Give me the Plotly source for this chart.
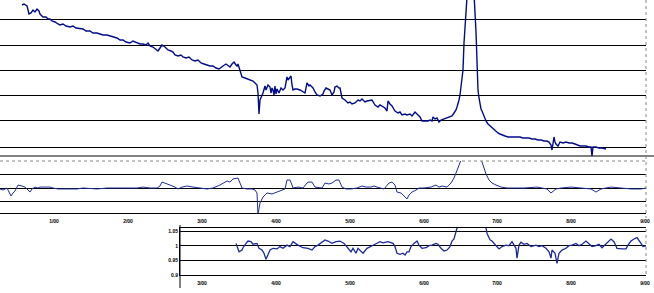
import plotly.graph_objects as go

# ---------------- data ----------------
# x positions are trading-session numbers (shared by all three panels)
top_x = [22,24,27,29,31,33,35,37,39,40,43,46,48,50,52,55,58,60,63,66,70,73,76,80,83,86,90,93,97,100,
         103,107,110,113,117,120,123,126,130,133,136,140,143,146,148,150,153,155,158,160,162,164,166,168,
         171,173,175,178,181,183,186,189,192,195,198,201,204,207,210,213,216,219,
         221,223,226,228,230,232,234,236,237,238,240,242,245,248,250,253,255,257,258,259,260,261,262,263,
         265,266,268,270,271,272,273,274,275,276,277,279,281,283,285,287,288,290,291,292,293,295,297,300,
         302,305,307,309,310,312,313,315,317,320,323,324,326,328,330,332,334,335,337,339,340,342,345,348,
         350,352,355,358,360,362,365,367,370,372,375,378,380,383,385,387,388,390,392,395,398,400,402,405,
         407,410,412,415,418,420,422,425,428,430,432,433,435,437,439,441,444,447,450,452,454,456,457,458,
         459,460,461,463,464,465,471,476,477,478,479,480,481,482,484,486,488,490,492,494,496,498,500,502,
         505,508,511,514,517,520,523,526,529,532,535,538,541,544,547,549,551,552,553,554,555,556,558,560,
         563,566,569,572,575,578,580,583,586,589,591,592,593,596,599,602,606]
top_vals = [151,152,150,142,143,146,144,147,145,142,139,139,137,137,135,134,132,131,132,130,129,130,128,127,
            127,125,125,123,123,122,121,121,120,119,118,116,116,114,113,115,114,112,112,111,113,110,109,107,
            105,108,111,110,108,106,105,104,101,100,101,99,98,99,96,95,96,93,92,91,90,90,88,87,
            89,90,92,90,89,92,94,91,90,92,86,79,78,77,76,75,73,71,63,42,56,58,60,63,
            70,66,71,69,63,68,66,61,70,62,67,63,68,66,68,79,76,78,80,71,66,67,67,66,
            65,63,73,70,71,69,68,64,61,60,62,65,68,67,66,61,64,69,70,68,68,58,56,53,
            54,52,53,56,55,57,54,55,56,56,51,49,51,49,48,45,55,52,50,45,43,44,41,42,
            41,42,40,44,41,39,35,35,35,36,35,39,37,38,34,36,37,38,39,40,43,46,49,52,
            56,61,69,86,113,136,220,124,94,66,58,52,47,45,39,35,32,30,28,26,25,23,22,21,
            20,19,19,19,19,19,18,18,18,17,17,16,16,15,15,14,11,6,13,19,14,12,10,14,
            13,14,13,13,12,11,10,10,10,9,9,0,9,9,8,8,7]
top_grid = [9, 36, 61, 86, 111, 137]

osc_x = [0,3,7,9,11,13,15,17,18,22,25,27,30,32,35,38,40,45,50,53,58,67,77,83,97,107,117,127,137,143,150,
         157,160,162,165,170,175,178,182,187,193,200,207,213,220,227,230,233,238,240,242,247,252,255,257,
         258,260,263,267,272,277,282,285,287,290,292,293,298,303,307,308,312,315,322,325,329,332,336,339,
         342,346,351,357,362,366,371,374,377,384,389,392,395,397,401,404,407,409,412,416,419,424,431,436,
         439,442,447,451,454,456,458,460,471,482,484,486,489,492,496,501,507,514,524,537,547,551,556,561,
         571,581,591,596,601,611,621,631,641,646]
osc_vals = [-0.07,-0.15,0,-0.30,-0.59,-0.37,-0.22,0.07,0.22,0.15,0.07,-0.07,-0.30,-0.07,0.07,0,0.07,0.07,
            0.07,0,-0.07,-0.07,-0.07,0,-0.07,0,0,0,0,0.07,0,0,0.15,0.44,0.37,0.22,0.07,-0.07,0.07,0.15,
            0.07,0,-0.07,0,0.22,0.52,0.44,0.67,0.74,0.37,0,-0.07,-0.07,-0.15,-0.37,-1.95,-1.11,-0.67,
            -0.37,-0.44,-0.30,-0.15,-0.07,0.59,0.59,0.22,0,0.07,0,0.37,0.44,0.44,0.07,0,0.37,0.30,0.37,
            0.59,0.59,0.07,-0.07,-0.07,0,0.15,0.07,0.07,0.15,0.07,-0.07,0.37,0.44,0.22,-0.30,-0.37,-0.59,
            -0.81,-0.52,-0.30,-0.15,0,0,0.07,0.22,0.07,0.15,0.07,0.37,0.74,1.11,1.48,1.93,4.0,1.93,1.48,
            1.04,0.59,0.37,0.22,0.07,0,0,0,0.07,-0.07,-0.37,-0.07,0,0.07,0,-0.07,-0.30,-0.07,0.07,0,
            -0.07,-0.07,0]
osc_grid = [-1, 0, 1]

ratio_x = [236,237,239,242,243,246,248,251,253,257,259,262,264,266,267,270,273,277,280,283,287,290,293,
           295,298,303,308,312,315,318,322,325,328,332,336,340,344,348,351,353,356,358,361,363,367,370,
           375,380,383,388,393,395,397,400,403,405,407,409,411,414,417,419,422,426,429,432,436,438,441,
           444,447,450,452,454,456,457,471,486,487,490,492,496,499,502,506,509,512,516,517,519,521,524,
           527,531,536,539,542,546,549,551,552,555,557,559,562,566,569,572,576,579,582,586,589,592,596,
           599,602,607,611,614,617,622,626,628,631,634,637,641,643,646]
ratio_vals = [1.009,0.998,0.980,0.986,0.994,1.009,1.017,1.015,1.006,1.009,0.992,0.986,0.975,0.954,0.963,
              0.986,0.992,0.990,0.998,0.992,1.003,0.998,1.015,1.009,1.003,0.994,0.992,0.986,0.998,1.003,
              1.015,1.021,1.017,1.009,1.015,1.017,1.009,0.992,0.980,0.992,0.975,0.992,0.980,0.975,0.992,
              0.998,1.006,1.015,1.011,1.015,1.009,0.998,0.975,0.971,0.975,0.969,0.980,0.980,0.998,1.009,
              1.017,1.003,0.992,0.994,1.001,1.003,1.009,1.006,0.992,0.983,0.986,0.998,1.017,1.024,1.049,
              1.062,1.12,1.062,1.044,1.021,1.017,1.003,0.990,0.998,1.003,1.001,1.015,0.992,0.958,1.003,
              1.013,1.006,1.009,0.998,1.003,0.998,1.001,0.992,0.980,0.958,0.986,0.975,0.940,0.975,0.986,
              0.992,1.001,1.003,1.009,1.001,1.006,1.017,1.009,0.998,1.001,1.006,0.994,1.009,1.024,1.015,
              0.992,0.990,0.990,1.003,1.017,1.024,1.029,1.009,0.998,1.001]
ratio_ticks = [0.9, 0.95, 1, 1.05]
ratio_ticktext = ["0.9", "0.95", "1", "1.05"]

x_ticks = [54, 128, 202, 276, 350, 424, 497, 571, 645]
x_ticktext = ["1/00", "2/00", "3/00", "4/00", "5/00", "6/00", "7/00", "8/00", "9/00"]

# ---------------- figure ----------------
W, H = 654, 293
def py(px):
    return 1 - px / H
right = 646 / W

fig = go.Figure()
fig.add_trace(go.Scatter(x=top_x, y=top_vals, mode="lines",
                         line=dict(color="#000C8C", width=1.4), xaxis="x", yaxis="y"))
fig.add_trace(go.Scatter(x=osc_x, y=osc_vals, mode="lines",
                         line=dict(color="#1E2E9E", width=1), xaxis="x2", yaxis="y2"))
fig.add_trace(go.Scatter(x=ratio_x, y=ratio_vals, mode="lines",
                         line=dict(color="#1A2A9A", width=1.3), xaxis="x3", yaxis="y3"))

tickfont = dict(family="Arial, Liberation Sans, sans-serif", size=5, color="black", weight="bold")

fig.update_layout(
    width=W, height=H, margin=dict(l=0, r=0, t=0, b=0, autoexpand=False),
    paper_bgcolor="white", plot_bgcolor="white", showlegend=False,
    xaxis=dict(domain=[0, right], range=[0, 646], anchor="y", showticklabels=False,
               showgrid=False, zeroline=False, showline=False, ticks="", automargin=False),
    yaxis=dict(domain=[py(156), 1], range=[0, 156], anchor="x", tickvals=top_grid,
               showticklabels=False, showgrid=True, gridcolor="black", gridwidth=1,
               zeroline=False, showline=False, automargin=False),
    xaxis2=dict(domain=[0, right], range=[0, 646], anchor="y2", matches="x",
                tickvals=x_ticks, ticktext=x_ticktext, tickfont=tickfont, ticks="",
                ticklabelstandoff=3,
                showgrid=False, zeroline=False, showline=True, linecolor="black", linewidth=1,
                automargin=False),
    yaxis2=dict(domain=[py(213), py(161)], range=[-1.85, 2.0], anchor="x2", tickvals=osc_grid,
                showticklabels=False, showgrid=True, gridcolor="black", gridwidth=1,
                zeroline=False, showline=False, automargin=False),
    xaxis3=dict(domain=[180 / W, right], range=[180, 646], anchor="y3",
                tickvals=x_ticks, ticktext=x_ticktext, tickfont=tickfont, ticks="",
                ticklabelstandoff=3,
                showgrid=False, zeroline=False, showline=True, mirror=True,
                linecolor="black", linewidth=1, automargin=False),
    yaxis3=dict(domain=[py(275), py(228)], range=[0.9, 1.062], anchor="x3",
                tickvals=ratio_ticks, ticktext=ratio_ticktext, tickfont=tickfont, ticks="",
                showgrid=True, gridcolor="black", gridwidth=1, zeroline=False,
                showline=True, linecolor="black", linewidth=1, automargin=False),
)

shapes = [
    # bottom border of the top panel across full width
    dict(type="line", xref="paper", yref="paper", x0=0, x1=1, y0=py(156), y1=py(156),
         line=dict(color="black", width=1)),
    # dotted top border of the middle panel
    dict(type="line", xref="paper", yref="paper", x0=0, x1=right, y0=py(161), y1=py(161),
         line=dict(color="#888888", width=1, dash="dot")),
    # dotted right borders
    dict(type="line", xref="paper", yref="paper", x0=right, x1=right, y0=py(0), y1=py(218),
         line=dict(color="#888888", width=1, dash="dot")),
    dict(type="line", xref="paper", yref="paper", x0=right, x1=right, y0=py(229), y1=py(277),
         line=dict(color="#888888", width=1, dash="dot")),
    # extended left axis of the bottom panel
    dict(type="line", xref="paper", yref="paper", x0=180 / W, x1=180 / W, y0=py(225), y1=py(288),
         line=dict(color="black", width=1)),
]
fig.update_layout(shapes=shapes)

fig.write_html("out.html")
